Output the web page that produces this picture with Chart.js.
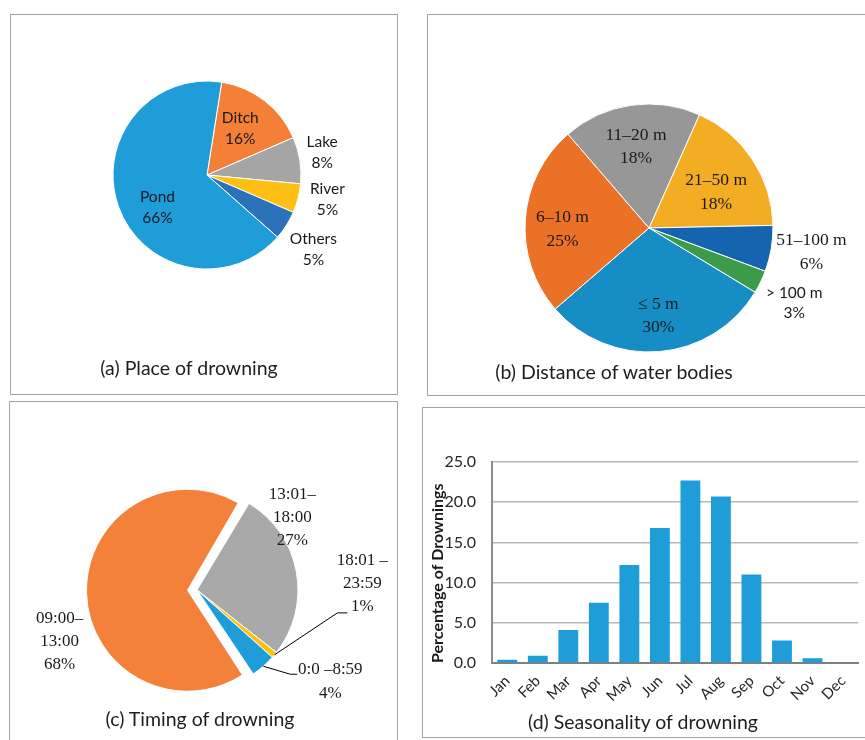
<!DOCTYPE html>
<html lang="en">
<head>
<meta charset="UTF-8">
<title>Drowning</title>
<script src="https://cdn.jsdelivr.net/npm/chart.js"></script>
<style>
  html, body { margin: 0; padding: 0; background: #fff; width: 865px; height: 740px; overflow: hidden; }
  .box { position: absolute; border: 1px solid #a3a3a3; box-sizing: border-box; }
  canvas { position: absolute; }
  .caption { position: absolute; transform: translate(-50%, -50%); font-family: Lato, sans-serif; font-size: 19.5px; color: #1e1e1e; white-space: nowrap; }
</style>
</head>
<body>
  <!-- panel frames -->
  <div class="box" style="left:10px; top:14px; width:388px; height:381px;"></div>
  <div class="box" style="left:427px; top:14px; width:460px; height:382px;"></div>
  <div class="box" style="left:9px; top:401px; width:389px; height:400px;"></div>
  <div class="box" style="left:422px; top:407px; width:460px; height:331px;"></div>

  <canvas id="chartA" width="388" height="381" style="left:10px; top:14px;"></canvas>
  <canvas id="chartB" width="438" height="382" style="left:427px; top:14px;"></canvas>
  <canvas id="chartC" width="389" height="339" style="left:9px; top:401px;"></canvas>
  <canvas id="chartD" width="443" height="331" style="left:422px; top:407px;"></canvas>

  <div class="caption" style="left:189px; top:367px;">(a) Place of drowning</div>
  <div class="caption" style="left:614px; top:371px;">(b) Distance of water bodies</div>
  <div class="caption" style="left:200px; top:718px;">(c) Timing of drowning</div>
  <div class="caption" style="left:643px; top:721px;">(d) Seasonality of drowning</div>

<script>
    // (a) place of drowning, %
    const placeLabels = ['Ditch', 'Lake', 'River', 'Others', 'Pond'];
    const placeValues = [16, 8, 5, 5, 66];

    // (b) distance of water bodies from home, %
    const distanceLabels = ['21–50 m', '51–100 m', '> 100 m', '≤ 5 m', '6–10 m', '11–20 m'];
    const distanceValues = [18, 6, 3, 30, 25, 18];

    // (c) time of day, %
    const timeLabels = ['13:01–\n18:00', '18:01 –\n23:59', '0:0 –8:59', '09:00–\n13:00'];
    const timeValues = [27, 1, 4, 68];

    // (d) month of drowning, %
    const months = ['Jan', 'Feb', 'Mar', 'Apr', 'May', 'Jun', 'Jul', 'Aug', 'Sep', 'Oct', 'Nov', 'Dec'];
    const monthValues = [0.4, 0.9, 4.1, 7.5, 12.2, 16.8, 22.7, 20.7, 11.0, 2.8, 0.6, 0.0];
    const yTicks = [0, 5, 10, 15, 20, 25];

    Chart.defaults.font.family = 'Lato, sans-serif';
    Chart.defaults.color = '#262626';

    // writes "name / value%" next to each slice, with optional leader line
    const sliceLabels = {
        id: 'sliceLabels',
        afterDatasetsDraw(chart, args, opts) {
            const ctx = chart.ctx;
            const arcs = chart.getDatasetMeta(0).data;
            const names = chart.data.labels;
            const values = chart.data.datasets[0].data;
            ctx.save();
            arcs.forEach((arc, i) => {
                const st = opts.items[i];
                const p = arc.getProps(['x', 'y', 'startAngle', 'endAngle', 'outerRadius']);
                const mid = (p.startAngle + p.endAngle) / 2;
                const r = p.outerRadius * st.r;
                const lx = p.x + Math.cos(mid) * r + (st.dx || 0);
                const ly = p.y + Math.sin(mid) * r + (st.dy || 0);
                const lines = names[i].split('\n').concat(values[i] + '%');
                const lh = st.lineHeight || opts.lineHeight;
                ctx.font = st.font || opts.font;
                ctx.fillStyle = opts.color;
                ctx.textAlign = 'center';
                ctx.textBaseline = 'middle';
                lines.forEach((t, k) => {
                    ctx.fillText(t, lx, ly + (k - (lines.length - 1) / 2) * lh);
                });
                if (st.leader) {
                    ctx.beginPath();
                    ctx.strokeStyle = '#000';
                    ctx.lineWidth = 1;
                    ctx.moveTo(p.x + Math.cos(mid) * p.outerRadius, p.y + Math.sin(mid) * p.outerRadius);
                    st.leader.forEach(pt => ctx.lineTo(lx + pt[0], ly + pt[1]));
                    ctx.stroke();
                }
            });
            ctx.restore();
        }
    };

    // an offset arc is also drawn offset/4 bigger; shrink it back so the
    // pulled-out slice keeps the same radius as the others
    const keepExplodedSize = {
        id: 'keepExplodedSize',
        afterUpdate(chart) {
            chart.getDatasetMeta(0).data.forEach(arc => {
                const off = (arc.options.offset || 0) / 4;
                if (off && arc.circumference >= Math.PI) arc.outerRadius -= off;
            });
        }
    };

    const pieBase = {
        responsive: false,
        animation: false,
        events: [],
    };

    // chart (a)
    new Chart(document.getElementById('chartA'), {
        type: 'pie',
        data: {
            labels: placeLabels,
            datasets: [{
                data: placeValues,
                backgroundColor: ['#f47f36', '#a5a5a5', '#fdbf14', '#2c72b8', '#1f9dd9'],
                borderColor: '#ffffff',
                borderWidth: 1
            }]
        },
        options: {
            ...pieBase,
            rotation: 9,
            radius: 94,
            layout: { padding: { left: 6, right: 0, top: 0, bottom: 59 } },
            plugins: {
                legend: { display: false },
                tooltip: { enabled: false },
                sliceLabels: {
                    font: '15.5px Lato, sans-serif',
                    color: '#1a1a1a',
                    lineHeight: 21,
                    items: [
                        { r: 0.63, dx: -3, dy: 0 },
                        { r: 1.24, dx: 0, dy: -4 },
                        { r: 1.30, dx: 2, dy: -6 },
                        { r: 1.34, dx: 0, dy: 7 },
                        { r: 0.56, dx: 0, dy: 15 }
                    ]
                }
            }
        },
        plugins: [sliceLabels]
    });

    // chart (b)
    new Chart(document.getElementById('chartB'), {
        type: 'pie',
        data: {
            labels: distanceLabels,
            datasets: [{
                data: distanceValues,
                backgroundColor: ['#f2ad22', '#1464b0', '#3b9b48', '#178dc5', '#eb7127', '#979797'],
                borderColor: '#ffffff',
                borderWidth: 1
            }]
        },
        options: {
            ...pieBase,
            rotation: 24,
            radius: 124,
            layout: { padding: { left: 6, right: 0, top: 46, bottom: 0 } },
            plugins: {
                legend: { display: false },
                tooltip: { enabled: false },
                sliceLabels: {
                    font: '17.5px "Liberation Serif", serif',
                    color: '#1a1a1a',
                    lineHeight: 23.5,
                    items: [
                        { r: 0.65, dx: 0, dy: 9 },
                        { r: 1.32, dx: 1, dy: -3 },
                        { r: 1.31, dx: -1, dy: 4, font: '15.5px Lato, sans-serif', lineHeight: 20 },
                        { r: 0.71, dx: 2, dy: 0 },
                        { r: 0.70, dx: 0, dy: 8 },
                        { r: 0.66, dx: -1, dy: 0 }
                    ]
                }
            }
        },
        plugins: [sliceLabels]
    });

    // chart (c), morning slice pulled out
    new Chart(document.getElementById('chartC'), {
        type: 'pie',
        data: {
            labels: timeLabels,
            datasets: [{
                data: timeValues,
                backgroundColor: ['#a9a9a9', '#ffc10e', '#1f9dd9', '#f4813a'],
                borderColor: '#ffffff',
                borderWidth: 1,
                offset: [0, 0, 0, 38]
            }]
        },
        options: {
            ...pieBase,
            rotation: 31,
            radius: 101,
            layout: { padding: { left: 0, right: 13, top: 39, bottom: 0 } },
            plugins: {
                legend: { display: false },
                tooltip: { enabled: false },
                sliceLabels: {
                    font: '17px "Liberation Serif", serif',
                    color: '#1a1a1a',
                    lineHeight: 23,
                    items: [
                        { r: 1.0, dx: -4, dy: -54 },
                        { r: 1.0, dx: 88, dy: -71, leader: [[-25, 29], [-15, 29]] },
                        { r: 1.0, dx: 67, dy: 15, lineHeight: 24, leader: [[-40, -7], [-33, -7]] },
                        { r: 1.0, dx: -46, dy: 49 }
                    ]
                }
            }
        },
        plugins: [keepExplodedSize, sliceLabels]
    });

    // chart (d)
    new Chart(document.getElementById('chartD'), {
        type: 'bar',
        data: {
            labels: months,
            datasets: [{
                data: monthValues,
                backgroundColor: '#1f9dd9',
                barPercentage: 0.65,
                categoryPercentage: 1.0
            }]
        },
        options: {
            responsive: false,
            animation: false,
            events: [],
            layout: { padding: { left: 0, top: 55, right: 6, bottom: 0 } },
            plugins: { legend: { display: false }, tooltip: { enabled: false } },
            scales: {
                x: {
                    afterFit: s => { s.height = 75; },
                    grid: { display: false, drawTicks: false },
                    border: { color: '#7f7f7f', width: 2 },
                    ticks: { minRotation: 45, maxRotation: 45, padding: 9, font: { size: 15 }, color: '#262626' }
                },
                y: {
                    min: 0,
                    max: 25,
                    afterFit: s => { s.width = 70; },
                    afterBuildTicks: s => { s.ticks = yTicks.map(v => ({ value: v })); },
                    grid: { color: '#b8b8b8', lineWidth: 1.5, drawTicks: false },
                    border: { color: '#8c8c8c', width: 2 },
                    ticks: { padding: 16, font: { size: 16 }, color: '#262626', callback: v => v.toFixed(1) },
                    title: {
                        display: true,
                        text: 'Percentage of Drownings',
                        align: 'start',
                        font: { size: 16, weight: 'bold' },
                        color: '#1a1a1a',
                        padding: { top: 6, bottom: 0 }
                    }
                }
            }
        }
    });
</script>
</body>
</html>
